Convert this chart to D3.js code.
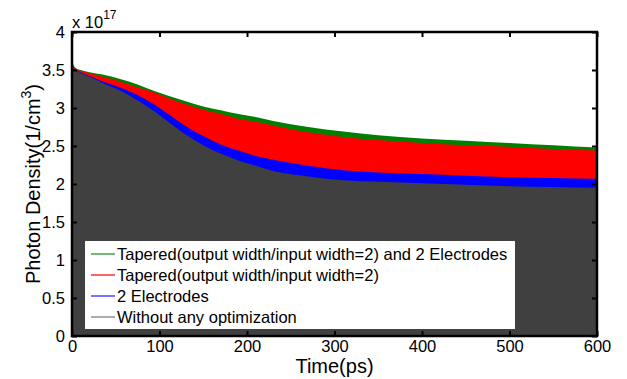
<!DOCTYPE html>
<html>
<head>
<meta charset="utf-8">
<script src="https://cdn.jsdelivr.net/npm/d3@7"></script>
<style>
body { margin: 0; background: #fff; }
text { font-family: "Liberation Sans", Arial, sans-serif; fill: #000; }
</style>
</head>
<body>
<svg id="chart" width="627" height="379"></svg>
<script>
// time points (ps)
var times = [0, 2, 5, 10, 20, 35, 55, 75, 95, 110, 130, 150, 170, 190, 210, 230, 270, 310, 350, 400, 450, 500, 550, 600];

// photon density, units of 1e17 /cm^3
var taperedElectrodes = [3.64, 3.56, 3.52, 3.50, 3.47, 3.44, 3.38, 3.31, 3.22, 3.16, 3.09, 3.02, 2.97, 2.92, 2.88, 2.83, 2.75, 2.69, 2.64, 2.60, 2.57, 2.54, 2.51, 2.48];
var tapered           = [3.62, 3.54, 3.51, 3.49, 3.46, 3.41, 3.35, 3.27, 3.20, 3.13, 3.05, 2.98, 2.92, 2.86, 2.82, 2.77, 2.68, 2.62, 2.58, 2.54, 2.51, 2.49, 2.46, 2.44];
var electrodes        = [3.61, 3.53, 3.50, 3.47, 3.42, 3.35, 3.27, 3.17, 3.04, 2.92, 2.76, 2.63, 2.52, 2.44, 2.37, 2.32, 2.24, 2.18, 2.15, 2.13, 2.11, 2.09, 2.08, 2.07];
var noOptimization    = [3.60, 3.52, 3.49, 3.46, 3.41, 3.33, 3.23, 3.10, 2.95, 2.82, 2.65, 2.51, 2.40, 2.31, 2.24, 2.17, 2.10, 2.05, 2.03, 2.01, 1.99, 1.97, 1.96, 1.95];

var xTicks = [0, 100, 200, 300, 400, 500, 600];
var yTicks = [0, 0.5, 1, 1.5, 2, 2.5, 3, 3.5, 4];
var yTickLabels = ["0", "0.5", "1", "1.5", "2", "2.5", "3", "3.5", "4"];

var seriesNames = [
        "Tapered(output width/input width=2) and 2 Electrodes",
        "Tapered(output width/input width=2)",
        "2 Electrodes",
        "Without any optimization"
];
var seriesValues = [taperedElectrodes, tapered, electrodes, noOptimization];
var fillColors   = ["#008000", "#ff0000", "#0000ff", "#404040"];
var legendColors = ["#3c9a3c", "#ff2020", "#3c3cff", "#8a8a8a"];

function draw_chart()
{
        var svg = d3.select("#chart");

        var pLeft = 72, pRight = 597, pTop = 32, pBottom = 336;

        var x = d3.scaleLinear().domain([0, 600]).range([pLeft, pRight]);
        var y = d3.scaleLinear().domain([0, 4]).range([pBottom, pTop]);

        // filled areas, back to front
        seriesValues.forEach(function(vals, i) {
                var pts = times.map(function(t, j) { return [t, vals[j]]; });
                var area = d3.area()
                        .x(function(d) { return x(d[0]); })
                        .y0(y(0))
                        .y1(function(d) { return y(d[1]); })
                        .curve(d3.curveMonotoneX);
                svg.append("path")
                        .datum(pts)
                        .attr("d", area)
                        .attr("fill", fillColors[i]);
        });

        function style_ticks(a) {
                a.select(".domain").remove();
                a.selectAll("line").attr("stroke", "#000").attr("stroke-width", 2);
                a.selectAll("text").style("font-size", "16.5px").attr("fill", "#000");
        }

        // axes with inward ticks
        svg.append("g")
                .attr("transform", "translate(0," + pBottom + ")")
                .call(d3.axisBottom(x).tickValues(xTicks).tickSizeInner(-5).tickSizeOuter(0).tickPadding(4))
                .call(style_ticks);

        svg.append("g")
                .attr("transform", "translate(0," + pTop + ")")
                .call(d3.axisTop(x).tickValues(xTicks).tickSizeInner(-5).tickSizeOuter(0).tickFormat(""))
                .call(style_ticks);

        svg.append("g")
                .attr("transform", "translate(" + pLeft + ",0)")
                .call(d3.axisLeft(y).tickValues(yTicks).tickSizeInner(-5).tickSizeOuter(0).tickPadding(7)
                        .tickFormat(function(d, i) { return yTickLabels[i]; }))
                .call(style_ticks);

        svg.append("g")
                .attr("transform", "translate(" + pRight + ",0)")
                .call(d3.axisRight(y).tickValues(yTicks).tickSizeInner(-5).tickSizeOuter(0).tickFormat(""))
                .call(style_ticks);

        svg.append("rect")
                .attr("x", pLeft).attr("y", pTop)
                .attr("width", pRight - pLeft).attr("height", pBottom - pTop)
                .attr("fill", "none").attr("stroke", "#000").attr("stroke-width", 2.5);

        // exponent label
        var ex = svg.append("text").attr("x", 72).attr("y", 28).style("font-size", "16.5px");
        ex.append("tspan").text("x 10");
        ex.append("tspan").attr("dy", -9).style("font-size", "12px").text("17");

        // axis titles
        svg.append("text")
                .attr("x", (pLeft + pRight) / 2).attr("y", 373)
                .attr("text-anchor", "middle")
                .style("font-size", "20px")
                .text("Time(ps)");

        var yl = svg.append("text")
                .attr("transform", "translate(40," + ((pTop + pBottom) / 2) + ") rotate(-90)")
                .attr("text-anchor", "middle")
                .style("font-size", "20px");
        yl.append("tspan").text("Photon Density(1/cm");
        yl.append("tspan").attr("dy", -9).style("font-size", "14px").text("3");
        yl.append("tspan").attr("dy", 9).text(")");

        // legend
        var lg = svg.append("g");
        lg.append("rect")
                .attr("x", 85).attr("y", 241)
                .attr("width", 430).attr("height", 88)
                .attr("fill", "#fff");

        seriesNames.forEach(function(name, i) {
                var cy = 254 + i * 21;
                lg.append("line")
                        .attr("x1", 91).attr("x2", 115)
                        .attr("y1", cy).attr("y2", cy)
                        .attr("stroke", legendColors[i]).attr("stroke-width", 1.4);
                lg.append("text")
                        .attr("x", 117).attr("y", cy + 6)
                        .style("font-size", "16.5px")
                        .text(name);
        });
}

draw_chart();
</script>
</body>
</html>
